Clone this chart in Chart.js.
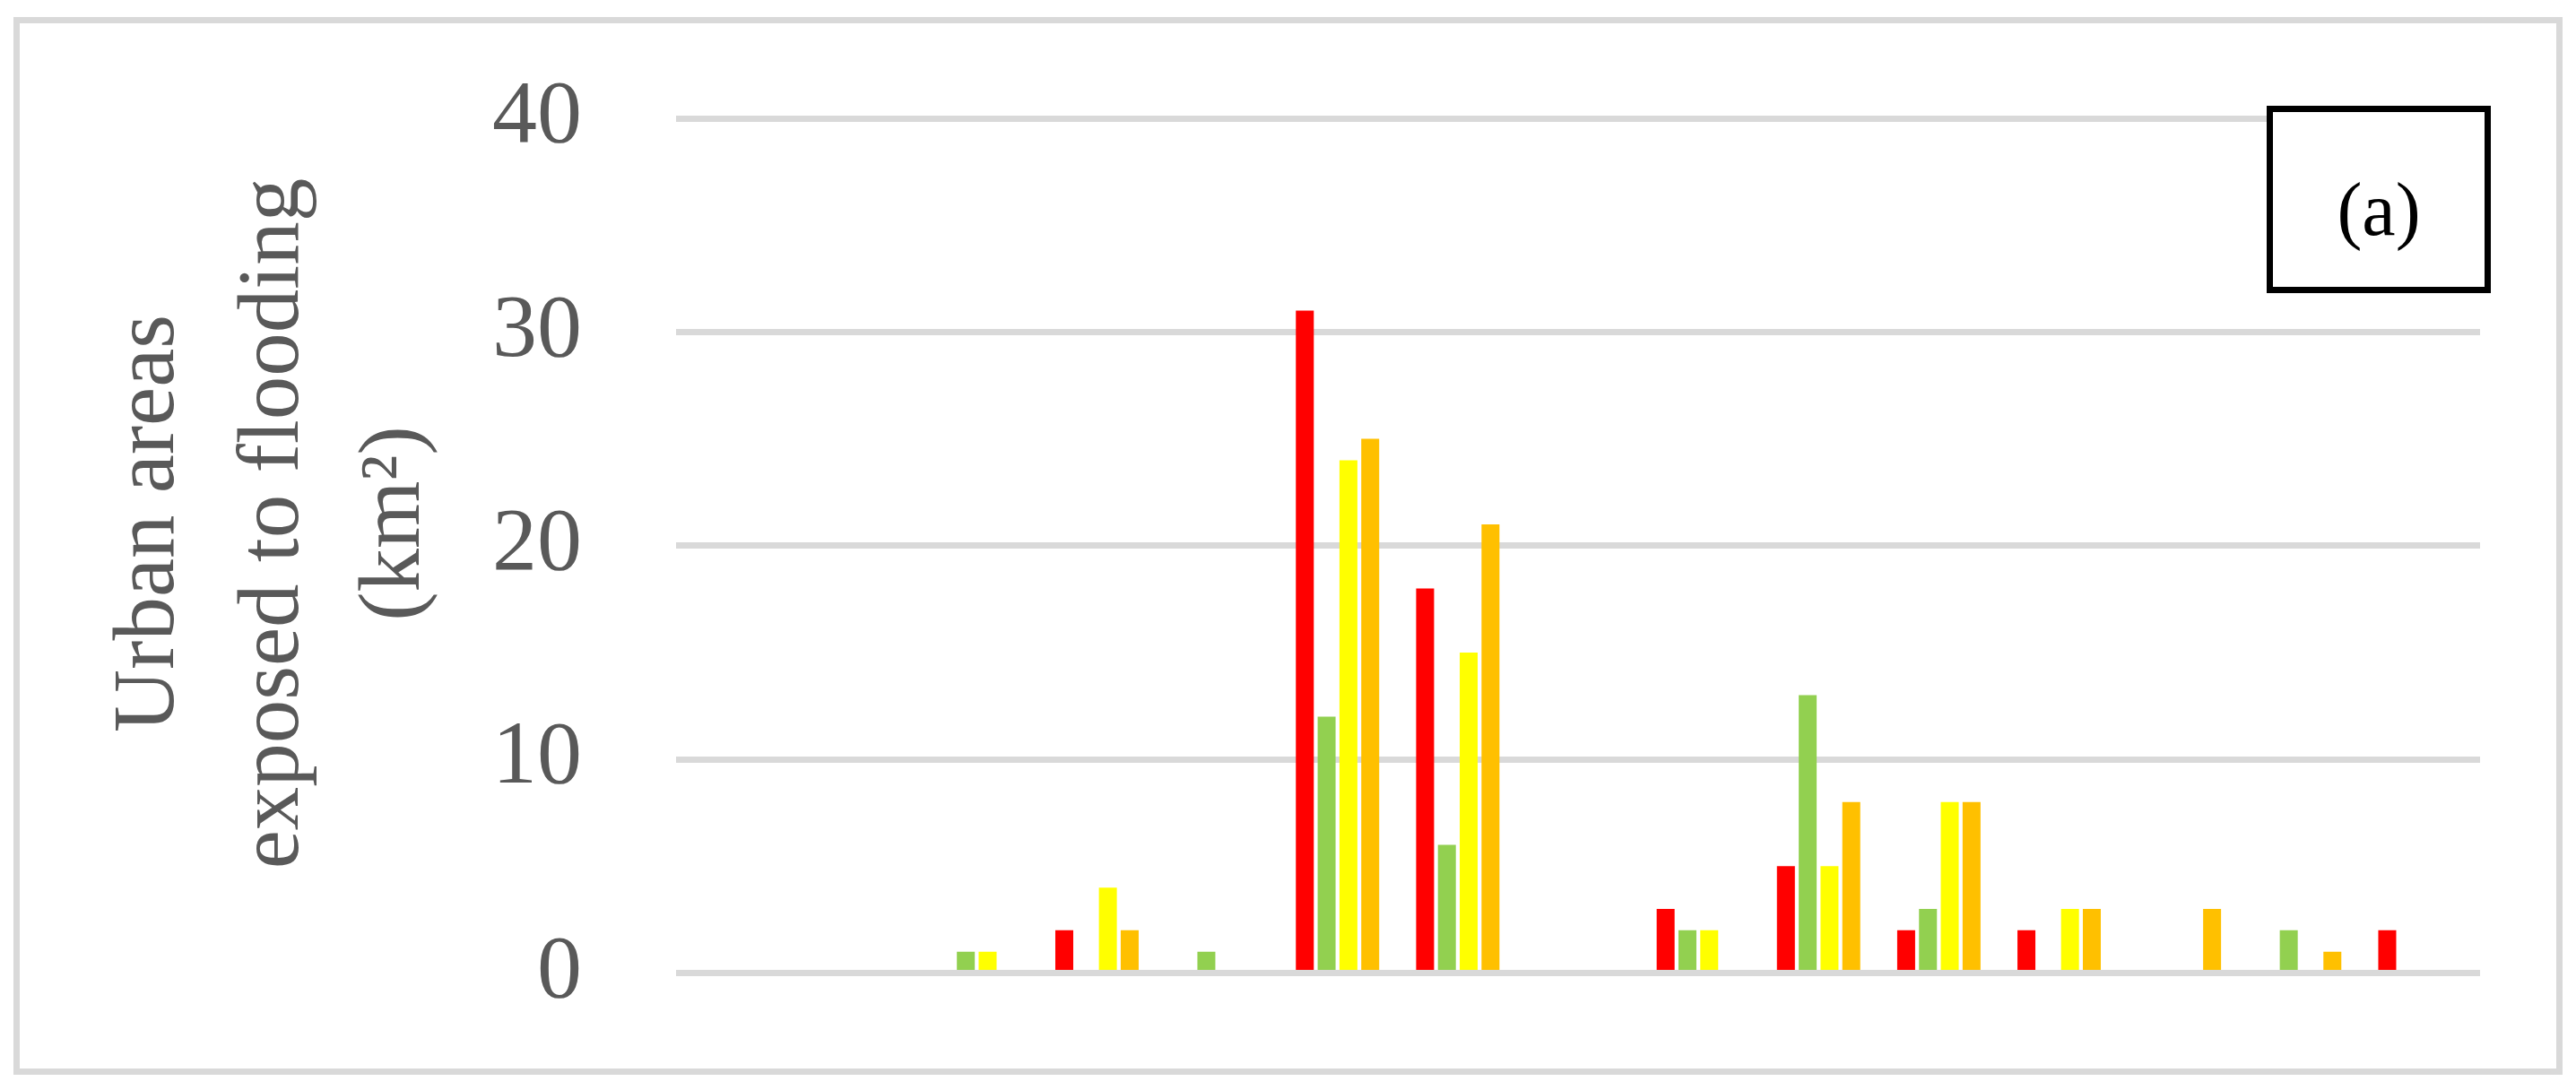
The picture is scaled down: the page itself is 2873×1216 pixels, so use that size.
<!DOCTYPE html>
<html>
<head>
<meta charset="utf-8">
<script src="https://cdn.jsdelivr.net/npm/chart.js@4"></script>
<style>
  body { margin: 0; background: #fff; }
  canvas { display: block; }
</style>
</head>
<body>
<canvas id="out" width="2873" height="1216"></canvas>
<script>
// categories have no visible labels in the figure
const categories = ["1", "2", "3", "4", "5", "6", "7", "8", "9", "10", "11", "12", "13", "14", "15"];

const redValues    = [0, 0, 0, 2, 0, 31, 18, 0, 3, 5, 2, 2, 0, 0, 2];
const greenValues  = [0, 0, 1, 0, 1, 12, 6, 0, 2, 13, 3, 0, 0, 2, 0];
const yellowValues = [0, 0, 1, 4, 0, 24, 15, 0, 2, 5, 8, 3, 0, 0, 0];
const orangeValues = [0, 0, 0, 2, 0, 25, 21, 0, 0, 8, 8, 3, 3, 1, 0];

const yTicks = [0, 10, 20, 30, 40];
const yTitle = ["Urban areas", "exposed to flooding", "(km²)"];
const panelLabel = "(a)";

const serif = "'Liberation Serif', 'DejaVu Serif', serif";

// outer frame, axis title and the "(a)" box
const decorations = {
  id: "decorations",
  beforeDraw(chart) {
    const c = chart.ctx;
    c.save();
    c.fillStyle = "#fff";
    c.fillRect(0, 0, chart.width, chart.height);
    c.strokeStyle = "#d9d9d9";
    c.lineWidth = 7;
    c.strokeRect(18.5, 22.5, 2836, 1173);

    // y title, three rotated lines
    c.fillStyle = "#595959";
    c.font = "97px " + serif;
    c.textAlign = "center";
    c.textBaseline = "middle";
    const titleX = [168, 307, 442];
    yTitle.forEach((line, i) => {
      c.save();
      c.translate(titleX[i], 584);
      c.rotate(-Math.PI / 2);
      c.fillText(line, 0, 0);
      c.restore();
    });
    c.restore();
  },
  afterDraw(chart) {
    const c = chart.ctx;
    c.save();
    c.fillStyle = "#fff";
    c.fillRect(2528, 118, 250, 209);
    c.strokeStyle = "#000";
    c.lineWidth = 7;
    c.strokeRect(2531.5, 121.5, 243, 202);
    c.fillStyle = "#000";
    c.font = "84px " + serif;
    c.textAlign = "center";
    c.textBaseline = "middle";
    c.fillText(panelLabel, 2653, 240);
    c.restore();
  }
};

const chartConfig = {
  type: "bar",
  data: {
    labels: categories,
    datasets: [
      { data: redValues, backgroundColor: "#ff0000" },
      { data: greenValues, backgroundColor: "#92d050" },
      { data: yellowValues, backgroundColor: "#ffff00" },
      { data: orangeValues, backgroundColor: "#ffc000" }
    ]
  },
  options: {
    responsive: false,
    animation: false,
    devicePixelRatio: 1,
    layout: { padding: { left: 20, right: 107, top: 132, bottom: 130.5 } },
    datasets: { bar: { categoryPercentage: 0.725, barPercentage: 0.823, borderWidth: 0 } },
    plugins: { legend: { display: false }, tooltip: { enabled: false } },
    scales: {
      x: { display: false },
      y: {
        min: 0,
        max: 40,
        afterBuildTicks: axis => { axis.ticks = yTicks.map(v => ({ value: v })); },
        afterFit: axis => {
          axis.width = 754 - 20;
          // the big tick padding would otherwise push the plot area in vertically
          axis.paddingTop = 0;
          axis.paddingBottom = 0;
        },
        border: { display: false },
        grid: { color: "#d9d9d9", lineWidth: 7, drawTicks: false },
        ticks: {
          color: "#595959",
          padding: 105,
          font: { family: serif, size: 100 }
        }
      }
    }
  },
  plugins: [decorations]
};

window.chart = new Chart(document.getElementById("out").getContext("2d"), chartConfig);
</script>
</body>
</html>
